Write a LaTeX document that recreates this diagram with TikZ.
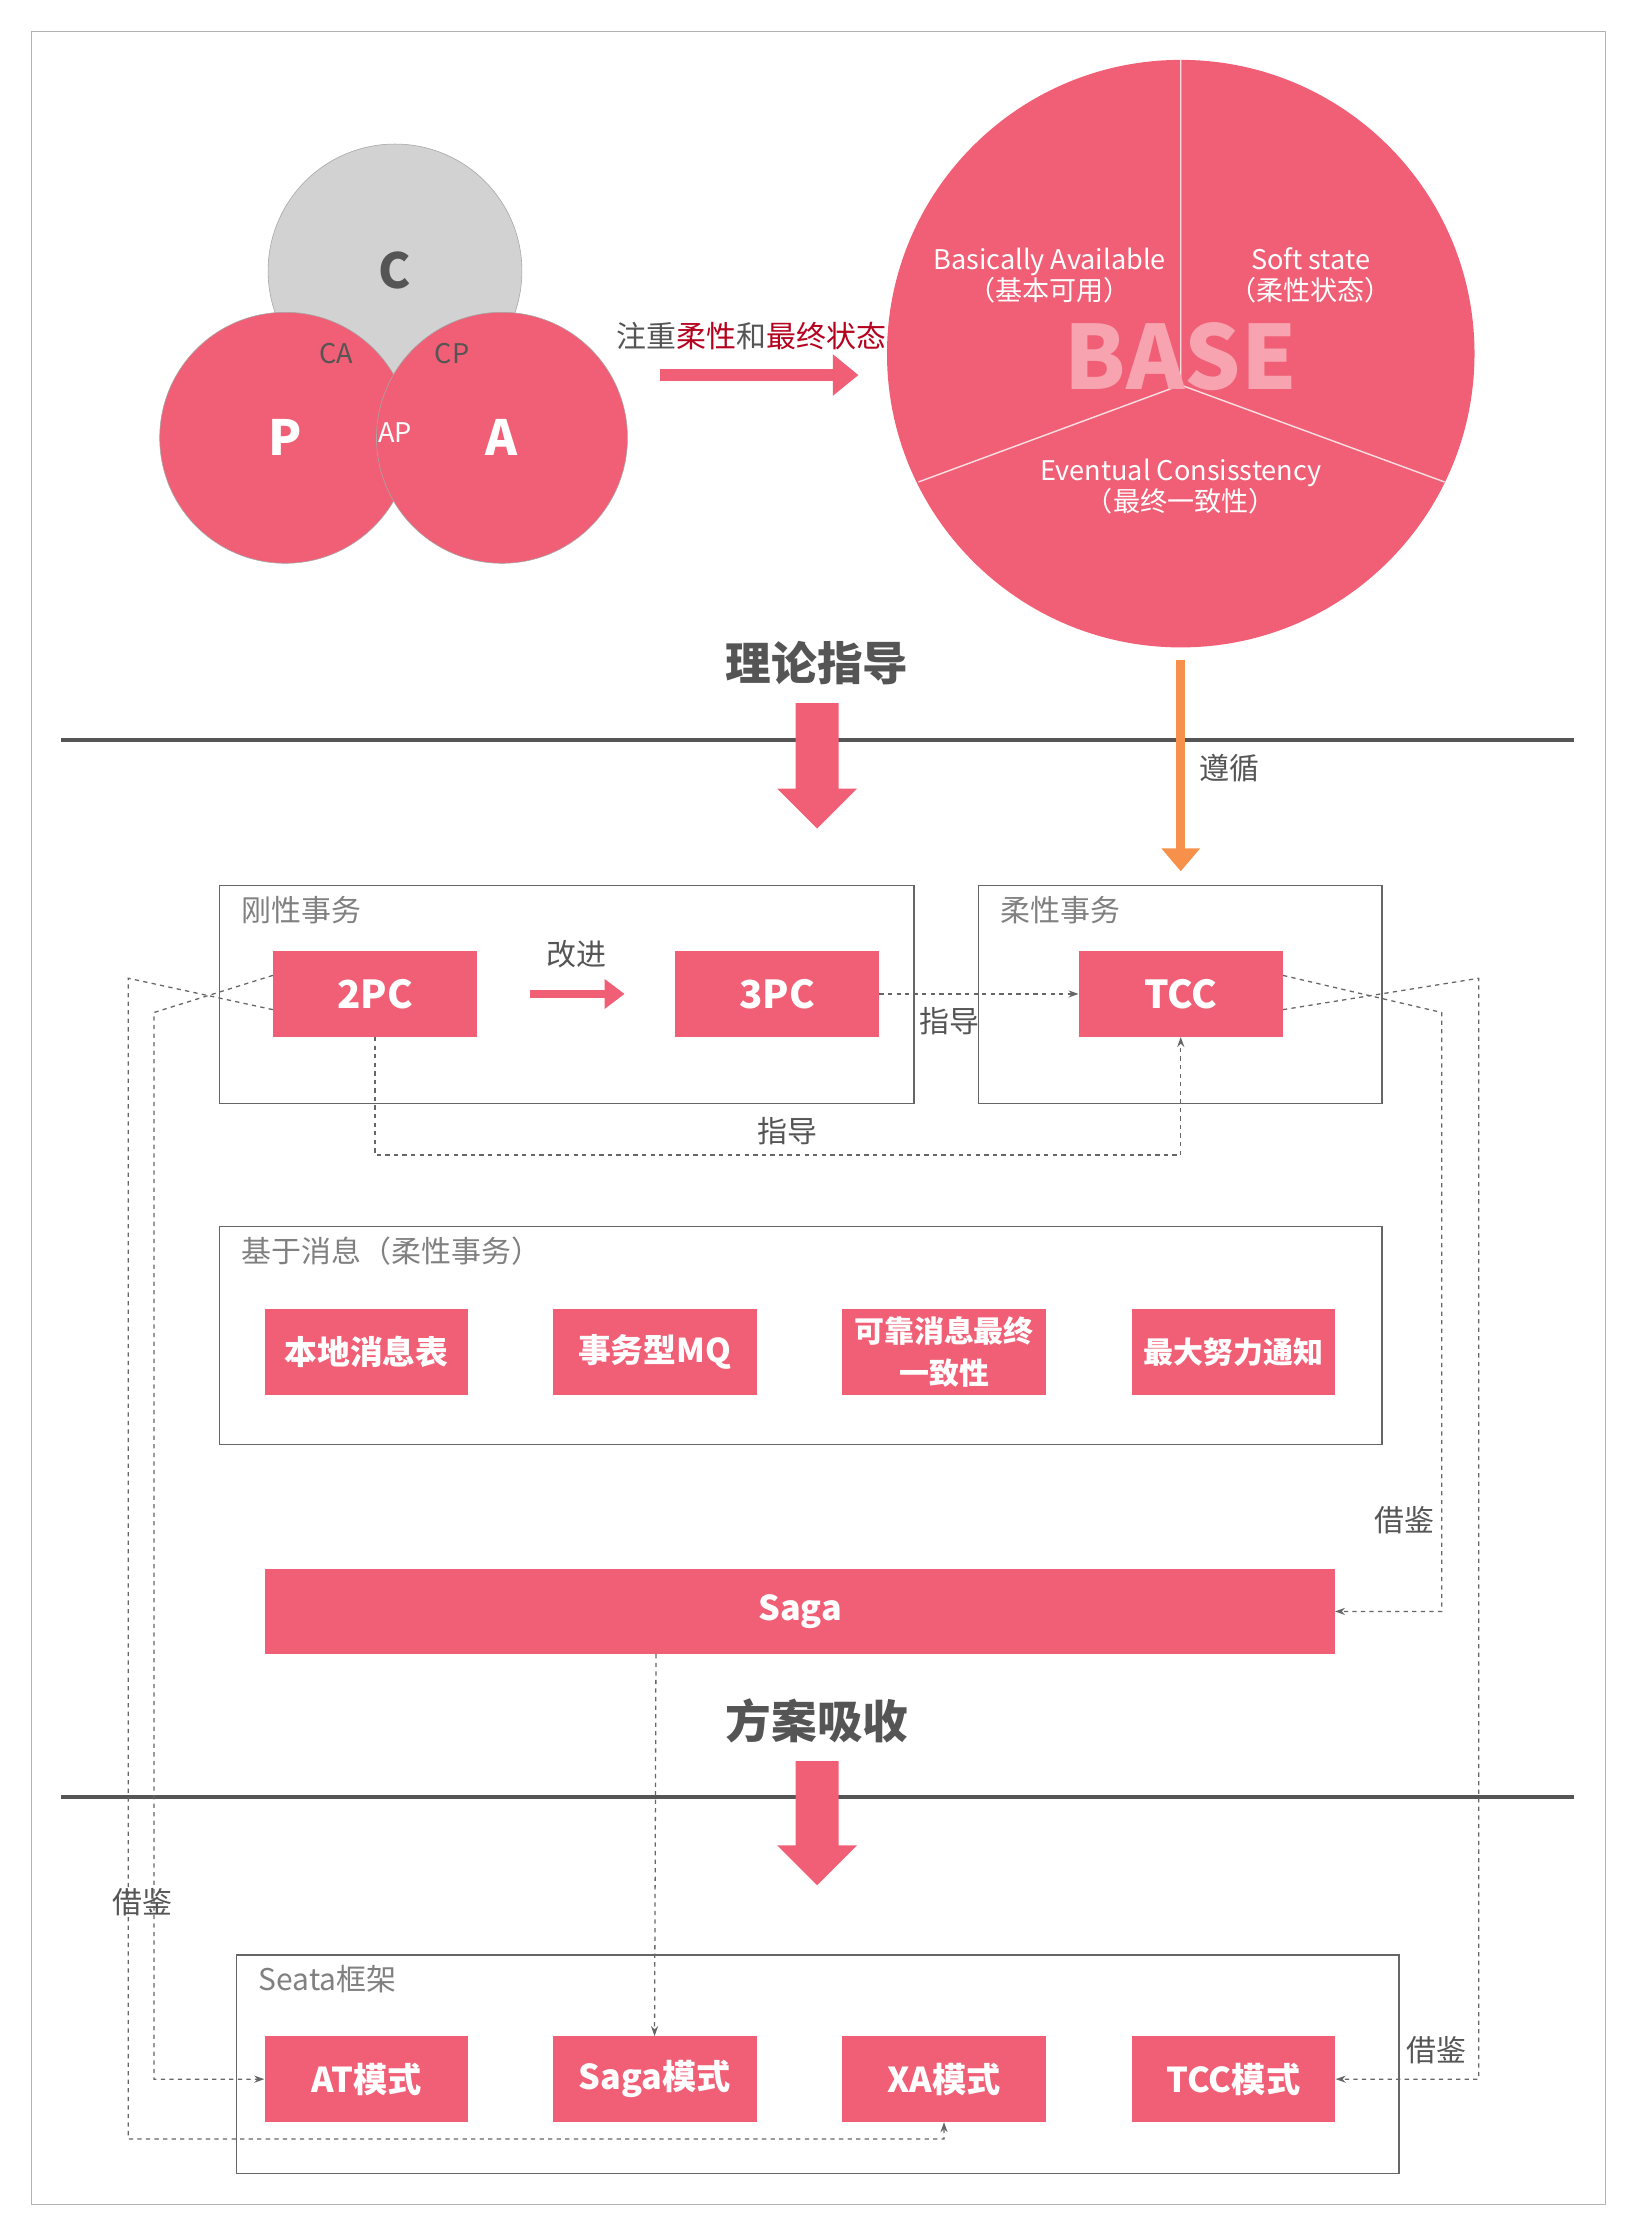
\documentclass[tikz,border=0pt]{standalone}
\usepackage{fontspec}
\setmainfont{Noto Sans CJK SC}
\usetikzlibrary{arrows.meta,positioning}
\definecolor{pinkred}{HTML}{F05F75}
\definecolor{lightpink}{HTML}{F7A3B0}
\definecolor{orangeline}{HTML}{F7904A}
\definecolor{darkred}{HTML}{B5001E}
\definecolor{textgray}{HTML}{555555}
\definecolor{boxgray}{HTML}{666666}
\tikzset{
  solbox/.style={fill=pinkred,text=white,font=\fontsize{27}{30}\selectfont\bfseries,minimum width=143pt,minimum height=60pt,inner sep=0pt,align=center},
  groupbox/.style={draw=boxgray,line width=1pt},
  grouplabel/.style={text=gray,font=\fontsize{21}{24}\selectfont,anchor=west},
  dashlink/.style={draw=boxgray,dashed,line width=0.9pt},
  dasharrow/.style={dashlink,-{Stealth[length=7pt,width=5pt]}},
  note/.style={text=textgray,font=\fontsize{21}{24}\selectfont},
  heading/.style={text=textgray,font=\fontsize{32}{36}\selectfont\bfseries},
  basetext/.style={text=white,font=\fontsize{19}{22}\selectfont,align=center},
  bigdown/.style={fill=pinkred}
}
\begin{document}
\begin{tikzpicture}[x=1pt,y=-1pt]
\useasboundingbox (0,0) rectangle (1146,1568);
\draw[gray!60,line width=1pt] (22,22) rectangle (1126,1546);

% CAP circles
\draw[fill=gray!35,draw=gray!70] (277,190) circle (89);
\draw[fill=pinkred,draw=gray!70] (200,307) circle (88);
\draw[fill=pinkred,draw=gray!70] (352,307) circle (88);
\node[text=textgray,font=\fontsize{34}{36}\selectfont\bfseries] (capC) at (277,190) {C};
\node[text=white,font=\fontsize{34}{36}\selectfont\bfseries] (capP) at (200,307) {P};
\node[text=white,font=\fontsize{34}{36}\selectfont\bfseries] (capA) at (352,307) {A};
\node[text=textgray,font=\fontsize{19}{22}\selectfont] (capCA) at (236,248) {CA};
\node[text=textgray,font=\fontsize{19}{22}\selectfont] (capCP) at (317,248) {CP};
\node[text=white,font=\fontsize{19}{22}\selectfont] (capAP) at (277,303) {AP};

% to BASE
\node[font=\fontsize{21}{24}\selectfont,text=textgray] (focus) at (527,236) {注重\textcolor{darkred}{柔性}和\textcolor{darkred}{最终状态}};
\coordinate (focusS) at (463,263);
\coordinate (focusE) at (602,263);
\draw[pinkred,line width=8pt,-{Triangle[length=18pt,width=28pt]}] (focusS) -- (focusE);

% BASE circle
\fill[pinkred] (828,248) circle (206);
\coordinate (baseO) at (828,270);
\draw[white!80!pinkred,line width=1pt] (baseO) -- (828,42) (baseO) -- (644,338) (baseO) -- (1013,338);
\node[text=lightpink,font=\fontsize{62}{64}\selectfont\bfseries] (baseT) at (828,250) {BASE};
\node[basetext] (baBA) at (736,193) {Basically Available\\（基本可用）};
\node[basetext] (baSS) at (919,193) {Soft state\\（柔性状态）};
\node[basetext] (baEC) at (828,341) {Eventual Consisstency\\（最终一致性）};

% theory guidance
\node[heading] (theory) at (573,465) {理论指导};
\draw[textgray,line width=3pt] (43,519) -- (1104,519);
\fill[bigdown] (558,493) -- (588,493) -- (588,553) -- (601,553) -- (573,581) -- (545,553) -- (558,553) -- cycle;
\coordinate (followS) at (828,463);
\coordinate (followE) at (828,611);
\draw[orangeline,line width=6pt,-{Triangle[length=16pt,width=26pt]}] (followS) -- (followE);
\node[note] (follow) at (862,539) {遵循};

% rigid / flexible transactions
\draw[groupbox] (154,621) rectangle (641,774);
\node[grouplabel] (rigidL) at (166,638) {刚性事务};
\draw[groupbox] (686,621) rectangle (969,774);
\node[grouplabel] (flexL) at (698,638) {柔性事务};
\node[solbox] (pc2) at (263,697) {2PC};
\node[solbox] (pc3) at (545,697) {3PC};
\node[solbox] (tcc) at (828,697) {TCC};
\node[note] (improve) at (404,669) {改进};
\draw[pinkred,line width=6pt,-{Triangle[length=14pt,width=20pt]}] (372,697) -- (438,697);
\draw[dasharrow] (pc3.east) -- (tcc.west);
\node[note] (guide1) at (666,716) {指导};
\draw[dasharrow] (pc2.south) -- (263,810) -- (828,810) -- (tcc.south);
\node[note] (guide2) at (552,793) {指导};

% message based
\draw[groupbox] (154,860) rectangle (969,1013);
\node[grouplabel] (msgL) at (166,877) {基于消息（柔性事务）};
\node[solbox,font=\fontsize{23}{26}\selectfont\bfseries] (localmsg) at (257,948) {本地消息表};
\node[solbox,font=\fontsize{23}{26}\selectfont\bfseries] (txmq) at (459,948) {事务型MQ};
\node[solbox,font=\fontsize{21}{30}\selectfont\bfseries] (reliable) at (662,948) {可靠消息最终\\一致性};
\node[solbox,font=\fontsize{21}{24}\selectfont\bfseries] (besteff) at (865,948) {最大努力通知};

% saga
\node[solbox,minimum width=750pt,font=\fontsize{24}{26}\selectfont\bfseries] (saga) at (561,1130) {Saga};
\draw[dasharrow] ([yshift=13pt]tcc.east) -- (1011,710) -- (1011,1130) -- (saga.east);
\node[note] (ref1) at (985,1066) {借鉴};

% absorb
\node[heading] (absorb) at (573,1207) {方案吸收};
\draw[textgray,line width=3pt] (43,1260) -- (1104,1260);
\fill[bigdown] (558,1235) -- (588,1235) -- (588,1294) -- (601,1294) -- (573,1322) -- (545,1294) -- (558,1294) -- cycle;

% seata
\draw[groupbox] (166,1371) rectangle (981,1524);
\node[grouplabel] (seataL) at (178,1388) {Seata框架};
\node[solbox,font=\fontsize{24}{26}\selectfont\bfseries] (atm) at (257,1458) {AT模式};
\node[solbox,font=\fontsize{24}{26}\selectfont\bfseries] (sagam) at (459,1458) {Saga模式};
\node[solbox,font=\fontsize{24}{26}\selectfont\bfseries] (xam) at (662,1458) {XA模式};
\node[solbox,font=\fontsize{24}{26}\selectfont\bfseries] (tccm) at (865,1458) {TCC模式};

\draw[dasharrow] (460,1160) -- (sagam.north);
\draw[dasharrow] ([yshift=-11pt]tcc.east) -- (1037,686) -- (1037,1458) -- (tccm.east);
\node[note] (ref2) at (1007,1438) {借鉴};
\draw[dasharrow] ([yshift=13pt]pc2.west) -- (108,710) -- (108,1458) -- (atm.west);
\draw[dasharrow] ([yshift=-11pt]pc2.west) -- (90,686) -- (90,1500) -- (662,1500) -- (xam.south);
\node[note] (ref3) at (100,1334) {借鉴};
\end{tikzpicture}
\end{document}
